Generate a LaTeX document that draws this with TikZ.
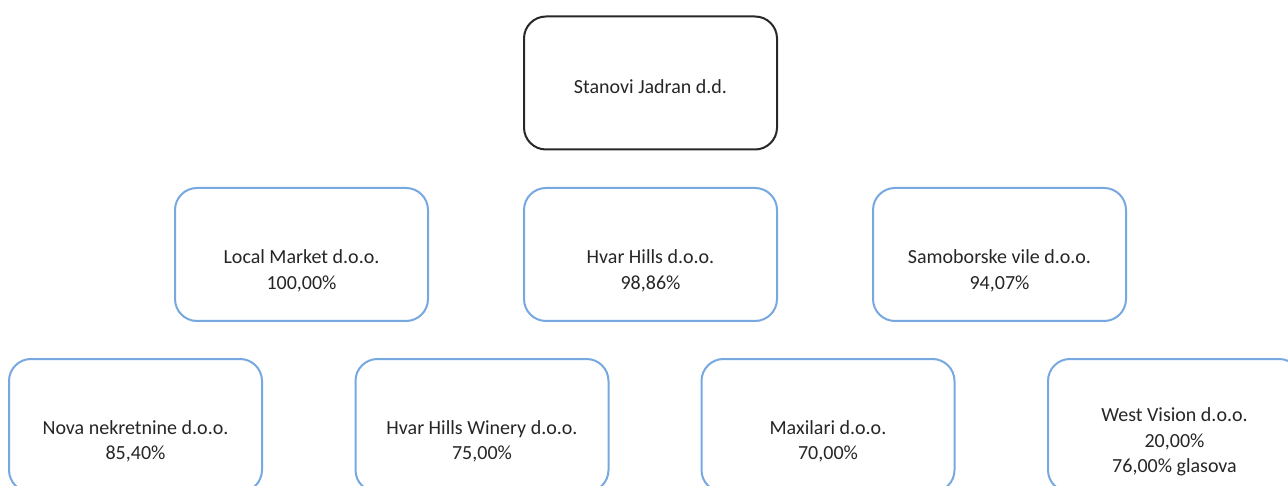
\documentclass[tikz,border=0pt]{standalone}
\usepackage{fontspec}
\setmainfont{Carlito}
\definecolor{boxblue}{RGB}{120,168,224}
\definecolor{boxdark}{RGB}{40,40,40}
\begin{document}
\begin{tikzpicture}[x=1pt,y=-1pt,
  box/.style={draw=boxblue,line width=2pt,rounded corners=22pt,minimum width=253pt,minimum height=133pt,inner sep=0pt,fill=white},
  topbox/.style={box,draw=boxdark},
  lbl/.style={anchor=base,align=center,inner sep=0pt,font=\fontsize{20}{25.5}\selectfont,text=black!85}]
\clip (0,0) rectangle (1288,486);
\fill[white] (0,0) rectangle (1288,486);
% top
\node[topbox] (top) at (650.5,83) {};
\node[lbl] (ttop) at (650.5,93.5) {Stanovi Jadran d.d.};
% middle row (anchor = baseline of last line)
\node[box] (lm) at (301.5,254.5) {};
\node[lbl] (tlm) at (301.5,289.5) {Local Market d.o.o.\\100,00\%};
\node[box] (hh) at (650.5,254.5) {};
\node[lbl] (thh) at (650.5,289.5) {Hvar Hills d.o.o.\\98,86\%};
\node[box] (sv) at (999.5,254.5) {};
\node[lbl] (tsv) at (999.5,289.5) {Samoborske vile d.o.o.\\94,07\%};
% bottom row
\node[box] (nn) at (135.5,425.5) {};
\node[lbl] (tnn) at (135.5,459.5) {Nova nekretnine d.o.o.\\85,40\%};
\node[box] (hw) at (482,425.5) {};
\node[lbl] (thw) at (482,459.5) {Hvar Hills Winery d.o.o.\\75,00\%};
\node[box] (mx) at (828,425.5) {};
\node[lbl] (tmx) at (828,459.5) {Maxilari d.o.o.\\70,00\%};
\node[box] (wv) at (1174.5,425.5) {};
\node[lbl] (twv) at (1174.5,472.5) {West Vision d.o.o.\\20,00\%\\76,00\% glasova};
\end{tikzpicture}
\end{document}
